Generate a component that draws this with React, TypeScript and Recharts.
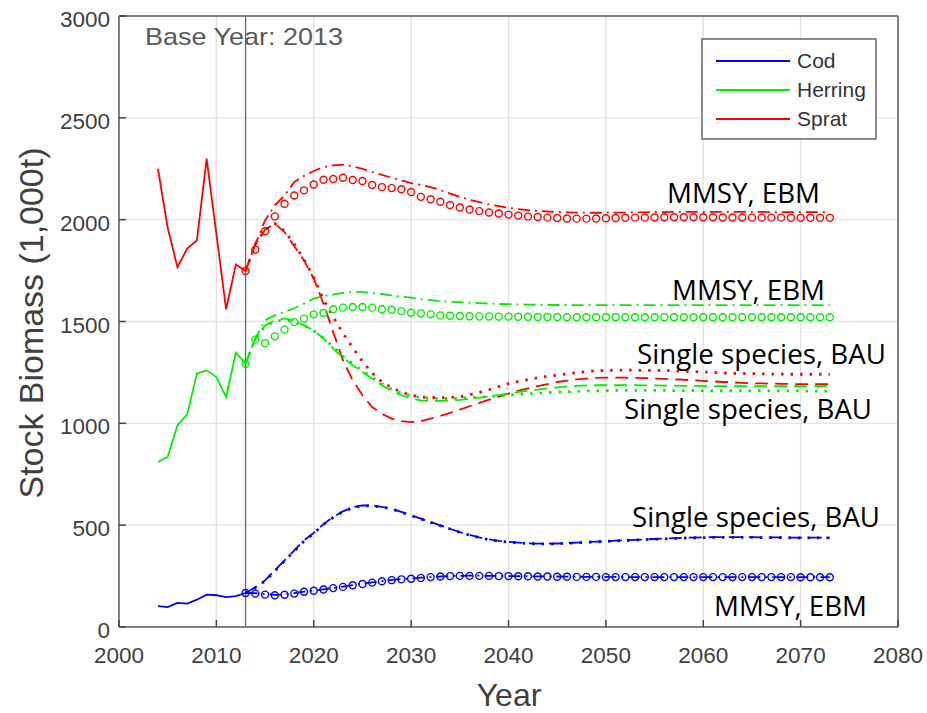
import { LineChart, Line, XAxis, YAxis, CartesianGrid, ReferenceLine } from "recharts";

// historical stock assessments (1,000 t)
const histYears = [2004, 2005, 2006, 2007, 2008, 2009, 2010, 2011, 2012, 2013];
const spratHist = [2250, 1960, 1767, 1858, 1898, 2300, 1930, 1560, 1780, 1748];
const herringHist = [810, 835, 990, 1044, 1244, 1260, 1227, 1129, 1347, 1293];
const codHist = [103, 98, 118, 115, 134, 159, 156, 147, 152, 167];

// projections from the base year 2013 to 2073
const projYears = Array.from({ length: 61 }, (_, i) => 2013 + i);

const spratMMSY = [
  1748, 1853, 1943, 2016, 2078, 2119, 2144, 2173, 2196, 2200,
  2206, 2195, 2190, 2170, 2160, 2155, 2149, 2136, 2112, 2100,
  2088, 2072, 2060, 2050, 2042, 2035, 2030, 2025, 2020, 2016,
  2013, 2010, 2008, 2006, 2005, 2005, 2006, 2007, 2008, 2009,
  2010, 2010, 2011, 2012, 2012, 2012, 2012, 2012, 2012, 2011,
  2011, 2011, 2010, 2010, 2010, 2010, 2009, 2009, 2009, 2009,
  2009,
];
const spratEBM = [
  1748, 1880, 1996, 2070, 2119, 2185, 2215, 2239, 2258, 2267,
  2270, 2262, 2250, 2234, 2220, 2206, 2193, 2180, 2170, 2160,
  2145, 2128, 2112, 2098, 2086, 2075, 2066, 2058, 2052, 2047,
  2043, 2040, 2038, 2036, 2035, 2034, 2034, 2034, 2035, 2035,
  2036, 2036, 2037, 2037, 2038, 2038, 2038, 2038, 2038, 2038,
  2038, 2038, 2038, 2038, 2037, 2037, 2037, 2037, 2037, 2037,
  2037,
];
const spratSingle = [
  1748, 1880, 1951, 1980, 1939, 1869, 1800, 1710, 1588, 1448,
  1309, 1211, 1138, 1080, 1047, 1023, 1011, 1006, 1011, 1023,
  1036, 1051, 1067, 1084, 1100, 1116, 1131, 1146, 1160, 1172,
  1183, 1193, 1203, 1210, 1216, 1220, 1223, 1224, 1224, 1224,
  1223, 1222, 1220, 1218, 1216, 1214, 1211, 1208, 1206, 1203,
  1201, 1199, 1197, 1196, 1195, 1194, 1193, 1193, 1192, 1192,
  1192,
];
const spratBAU = [
  1748, 1880, 1951, 1980, 1945, 1880, 1805, 1715, 1607, 1522,
  1443, 1372, 1304, 1247, 1203, 1175, 1154, 1138, 1129, 1127,
  1126, 1127, 1130, 1140, 1152, 1165, 1180, 1195, 1205, 1215,
  1224, 1231, 1236, 1243, 1249, 1254, 1258, 1260, 1261, 1261,
  1261, 1260, 1260, 1259, 1258, 1256, 1254, 1252, 1250, 1248,
  1246, 1245, 1244, 1243, 1242, 1242, 1241, 1241, 1241, 1241,
  1241,
];

const herringMMSY = [
  1293, 1411, 1394, 1427, 1460, 1497, 1514, 1535, 1542, 1560,
  1568, 1571, 1571, 1568, 1560, 1558, 1551, 1543, 1540, 1535,
  1530, 1528, 1527, 1526, 1525, 1525, 1524, 1524, 1523, 1523,
  1522, 1522, 1522, 1521, 1521, 1521, 1521, 1521, 1521, 1521,
  1521, 1521, 1521, 1521, 1521, 1521, 1521, 1521, 1521, 1521,
  1521, 1521, 1521, 1521, 1521, 1521, 1521, 1521, 1521, 1521,
  1521,
];
const herringEBM = [
  1293, 1416, 1506, 1530, 1547, 1565, 1588, 1612, 1625, 1632,
  1640, 1645, 1645, 1640, 1635, 1628, 1622, 1617, 1610, 1605,
  1600, 1597, 1595, 1592, 1590, 1588, 1586, 1585, 1584, 1583,
  1582, 1582, 1581, 1581, 1580, 1580, 1580, 1580, 1580, 1580,
  1580, 1580, 1580, 1580, 1580, 1580, 1580, 1580, 1580, 1580,
  1580, 1580, 1580, 1580, 1580, 1580, 1580, 1580, 1580, 1580,
  1580,
];
const herringSingle = [
  1293, 1416, 1480, 1505, 1515, 1506, 1481, 1457, 1416, 1367,
  1323, 1285, 1252, 1219, 1187, 1159, 1138, 1121, 1113, 1110,
  1110, 1112, 1115, 1120, 1126, 1132, 1139, 1146, 1153, 1160,
  1166, 1172, 1177, 1181, 1184, 1186, 1187, 1187, 1187, 1187,
  1187, 1186, 1186, 1185, 1185, 1184, 1184, 1183, 1183, 1183,
  1183, 1182, 1182, 1182, 1182, 1182, 1182, 1182, 1182, 1182,
  1182,
];
const herringBAU = [
  1293, 1416, 1478, 1500, 1508, 1500, 1480, 1455, 1420, 1375,
  1330, 1292, 1258, 1225, 1195, 1168, 1148, 1135, 1127, 1123,
  1122, 1122, 1124, 1126, 1129, 1132, 1136, 1139, 1142, 1145,
  1148, 1151, 1153, 1155, 1157, 1159, 1160, 1161, 1162, 1162,
  1162, 1162, 1162, 1162, 1161, 1161, 1161, 1160, 1160, 1160,
  1160, 1160, 1160, 1160, 1159, 1159, 1159, 1159, 1158, 1158,
  1158,
];

const codMMSY = [
  167, 164, 159, 156, 158, 164, 173, 178, 184, 191,
  197, 205, 211, 218, 225, 230, 234, 237, 241, 245,
  248, 250, 251, 251, 251, 251, 250, 250, 249, 249,
  248, 248, 247, 247, 246, 246, 246, 245, 245, 245,
  245, 245, 245, 245, 245, 245, 245, 245, 245, 245,
  245, 245, 245, 245, 245, 245, 245, 244, 244, 244,
  244,
];
const codEBM = [
  167, 166, 161, 158, 160, 166, 174, 179, 185, 192,
  198, 206, 212, 219, 225, 231, 235, 238, 242, 245,
  248, 250, 251, 252, 252, 251, 251, 250, 250, 249,
  249, 248, 248, 247, 247, 246, 246, 246, 246, 245,
  245, 245, 245, 245, 245, 245, 245, 245, 245, 245,
  245, 245, 245, 245, 245, 245, 245, 245, 245, 245,
  245,
];
const codSingle = [
  167, 195, 229, 278, 327, 376, 425, 462, 505, 540,
  568, 588, 597, 596, 590, 580, 565, 548, 532, 515,
  499, 482, 466, 452, 440, 430, 423, 418, 414, 411,
  409, 409, 410, 412, 414, 417, 419, 421, 424, 426,
  428, 430, 432, 434, 436, 438, 439, 440, 441, 441,
  441, 441, 441, 440, 440, 440, 439, 439, 439, 439,
  439,
];
const codBAU = [
  167, 193, 226, 275, 324, 373, 422, 460, 503, 538,
  566, 586, 596, 595, 589, 579, 564, 547, 531, 514,
  498, 481, 465, 451, 439, 429, 422, 417, 413, 410,
  408, 408, 409, 411, 413, 416, 418, 420, 423, 425,
  427, 429, 431, 433, 435, 437, 438, 439, 440, 440,
  440, 440, 440, 439, 439, 439, 438, 438, 438, 438,
  438,
];

const xTicks = [2000, 2010, 2020, 2030, 2040, 2050, 2060, 2070, 2080];
const yTicks = [0, 500, 1000, 1500, 2000, 2500, 3000];

const RED = "#ff0000";
const GREEN = "#00ee00";
const BLUE = "#0000ff";

const AXIS_FONT = "'Liberation Sans', Arial, Helvetica, sans-serif";
const NOTE_FONT = "'Open Sans', 'Noto Sans', sans-serif";

function buildData() {
  const byYear = new Map<number, Record<string, number>>();
  const row = (yr: number) => {
    if (!byYear.has(yr)) byYear.set(yr, { year: yr });
    return byYear.get(yr)!;
  };
  histYears.forEach((yr, i) => {
    const r = row(yr);
    r.spratHist = spratHist[i];
    r.herringHist = herringHist[i];
    r.codHist = codHist[i];
  });
  projYears.forEach((yr, i) => {
    const r = row(yr);
    r.spratMMSY = spratMMSY[i];
    r.spratEBM = spratEBM[i];
    r.spratSingle = spratSingle[i];
    r.spratBAU = spratBAU[i];
    r.herringMMSY = herringMMSY[i];
    r.herringEBM = herringEBM[i];
    r.herringSingle = herringSingle[i];
    r.herringBAU = herringBAU[i];
    r.codMMSY = codMMSY[i];
    r.codEBM = codEBM[i];
    r.codSingle = codSingle[i];
    r.codBAU = codBAU[i];
  });
  return [...byYear.values()].sort((a, b) => a.year - b.year);
}

const data = buildData();

// MATLAB-style ticks: marks point into the box, labels sit outside
const BottomTick = ({ x, y, payload }: any) => (
  <g>
    <line x1={x} x2={x} y1={y} y2={y - 7} stroke="#444" strokeWidth={1.5} />
    <text x={x} y={y + 36} textAnchor="middle" fontSize={22.5} fill="#404040" fontFamily={AXIS_FONT}>
      {payload.value}
    </text>
  </g>
);
const TopTick = ({ x, y }: any) => <line x1={x} x2={x} y1={y} y2={y + 7} stroke="#444" strokeWidth={1.5} />;
const LeftTick = ({ x, y, payload }: any) => (
  <g>
    <line x1={x} x2={x + 7} y1={y} y2={y} stroke="#444" strokeWidth={1.5} />
    <text x={x - 9} y={y + 11} textAnchor="end" fontSize={22.5} fill="#404040" fontFamily={AXIS_FONT}>
      {payload.value}
    </text>
  </g>
);
const RightTick = ({ x, y }: any) => <line x1={x} x2={x - 7} y1={y} y2={y} stroke="#444" strokeWidth={1.5} />;

const DASH = "13 7";
const DASHDOT = "12 5 2 5";
const DOT = "2.5 7";

function circles(color: string) {
  return { r: 3.5, stroke: color, strokeWidth: 1.4, fill: "none" };
}

const notes = [
  { text: "MMSY, EBM", x: 667, y: 203, w: 153 },
  { text: "MMSY, EBM", x: 672, y: 300, w: 153 },
  { text: "Single species, BAU", x: 637, y: 364, w: 249 },
  { text: "Single species, BAU", x: 624, y: 419, w: 248 },
  { text: "Single species, BAU", x: 632, y: 527, w: 248 },
  { text: "MMSY, EBM", x: 714, y: 616, w: 153 },
];

const legendItems = [
  { name: "Cod", color: BLUE },
  { name: "Herring", color: GREEN },
  { name: "Sprat", color: RED },
];

const axisLine = { stroke: "#808080", strokeWidth: 2 };

export default function App() {
  return (
    <div style={{ position: "absolute", left: 0, top: 0, width: 927, height: 713, background: "#fff" }}>
      <LineChart
        width={927}
        height={713}
        data={data}
        margin={{ top: 6, right: 19, bottom: 26, left: 39 }}
      >
        <CartesianGrid stroke="#e2e2e2" strokeWidth={1.4} />
        <XAxis
          dataKey="year"
          type="number"
          domain={[2000, 2080]}
          ticks={xTicks}
          height={60}
          tickSize={0}
          tickMargin={0}
          tick={<BottomTick />}
          axisLine={axisLine}
          interval={0}
        />
        <XAxis
          xAxisId="top"
          orientation="top"
          type="number"
          domain={[2000, 2080]}
          ticks={xTicks}
          height={10}
          tickSize={0}
          tickMargin={0}
          tick={<TopTick />}
          axisLine={axisLine}
          interval={0}
        />
        <YAxis
          type="number"
          domain={[0, 3000]}
          ticks={yTicks}
          width={80}
          tickSize={0}
          tickMargin={0}
          tick={<LeftTick />}
          axisLine={axisLine}
          interval={0}
        />
        <YAxis
          yAxisId="right"
          orientation="right"
          type="number"
          domain={[0, 3000]}
          ticks={yTicks}
          width={10}
          tickSize={0}
          tickMargin={0}
          tick={<RightTick />}
          axisLine={axisLine}
          interval={0}
        />
        <ReferenceLine x={2013} stroke="#666" strokeWidth={1.3} />

        {/* historical */}
        <Line dataKey="spratHist" stroke={RED} strokeWidth={1.8} dot={false} isAnimationActive={false} />
        <Line dataKey="herringHist" stroke={GREEN} strokeWidth={1.8} dot={false} isAnimationActive={false} />
        <Line dataKey="codHist" stroke={BLUE} strokeWidth={1.8} dot={false} isAnimationActive={false} />

        {/* sprat scenarios */}
        <Line dataKey="spratEBM" stroke={RED} strokeWidth={1.8} strokeDasharray={DASHDOT} dot={false} isAnimationActive={false} />
        <Line dataKey="spratMMSY" stroke="none" dot={circles(RED)} activeDot={false} isAnimationActive={false} />
        <Line dataKey="spratSingle" stroke={RED} strokeWidth={1.8} strokeDasharray={DASH} dot={false} isAnimationActive={false} />
        <Line dataKey="spratBAU" stroke={RED} strokeWidth={2.8} strokeDasharray={DOT} dot={false} isAnimationActive={false} />

        {/* herring scenarios */}
        <Line dataKey="herringEBM" stroke={GREEN} strokeWidth={1.8} strokeDasharray={DASHDOT} dot={false} isAnimationActive={false} />
        <Line dataKey="herringMMSY" stroke="none" dot={circles(GREEN)} activeDot={false} isAnimationActive={false} />
        <Line dataKey="herringSingle" stroke={GREEN} strokeWidth={1.8} strokeDasharray={DASH} dot={false} isAnimationActive={false} />
        <Line dataKey="herringBAU" stroke={GREEN} strokeWidth={2.8} strokeDasharray={DOT} dot={false} isAnimationActive={false} />

        {/* cod scenarios */}
        <Line dataKey="codEBM" stroke={BLUE} strokeWidth={1.8} strokeDasharray={DASHDOT} dot={false} isAnimationActive={false} />
        <Line dataKey="codMMSY" stroke="none" dot={circles(BLUE)} activeDot={false} isAnimationActive={false} />
        <Line dataKey="codSingle" stroke={BLUE} strokeWidth={1.8} strokeDasharray={DASH} dot={false} isAnimationActive={false} />
        <Line dataKey="codBAU" stroke={BLUE} strokeWidth={2.8} strokeDasharray={DOT} dot={false} isAnimationActive={false} />
      </LineChart>

      <svg
        width={927}
        height={713}
        style={{ position: "absolute", left: 0, top: 0, pointerEvents: "none" }}
      >
        <text
          x={145}
          y={45}
          fontSize={24}
          fill="#595959"
          fontFamily={AXIS_FONT}
          textLength={198}
          lengthAdjust="spacingAndGlyphs"
        >
          Base Year: 2013
        </text>

        {/* legend */}
        <rect x={702} y={39} width={174} height={100} fill="#fff" stroke="#6e6e6e" strokeWidth={1.6} />
        {legendItems.map((item, i) => (
          <g key={item.name}>
            <line x1={716} x2={790} y1={61 + i * 29} y2={61 + i * 29} stroke={item.color} strokeWidth={2} />
            <text x={797} y={68 + i * 29} fontSize={21} fill="#333" fontFamily={AXIS_FONT}>
              {item.name}
            </text>
          </g>
        ))}

        {notes.map((n, i) => (
          <text
            key={i}
            x={n.x}
            y={n.y}
            fontSize={28}
            fill="#000"
            fontFamily={NOTE_FONT}
            textLength={n.w}
            lengthAdjust="spacingAndGlyphs"
          >
            {n.text}
          </text>
        ))}

        <text
          x={43}
          y={323}
          transform="rotate(-90 43 323)"
          textAnchor="middle"
          fontSize={33}
          fill="#404040"
          fontFamily={AXIS_FONT}
          textLength={351}
          lengthAdjust="spacingAndGlyphs"
        >
          Stock Biomass (1,000t)
        </text>
        <text x={509} y={706} textAnchor="middle" fontSize={32} fill="#404040" fontFamily={AXIS_FONT}>
          Year
        </text>
      </svg>
    </div>
  );
}
